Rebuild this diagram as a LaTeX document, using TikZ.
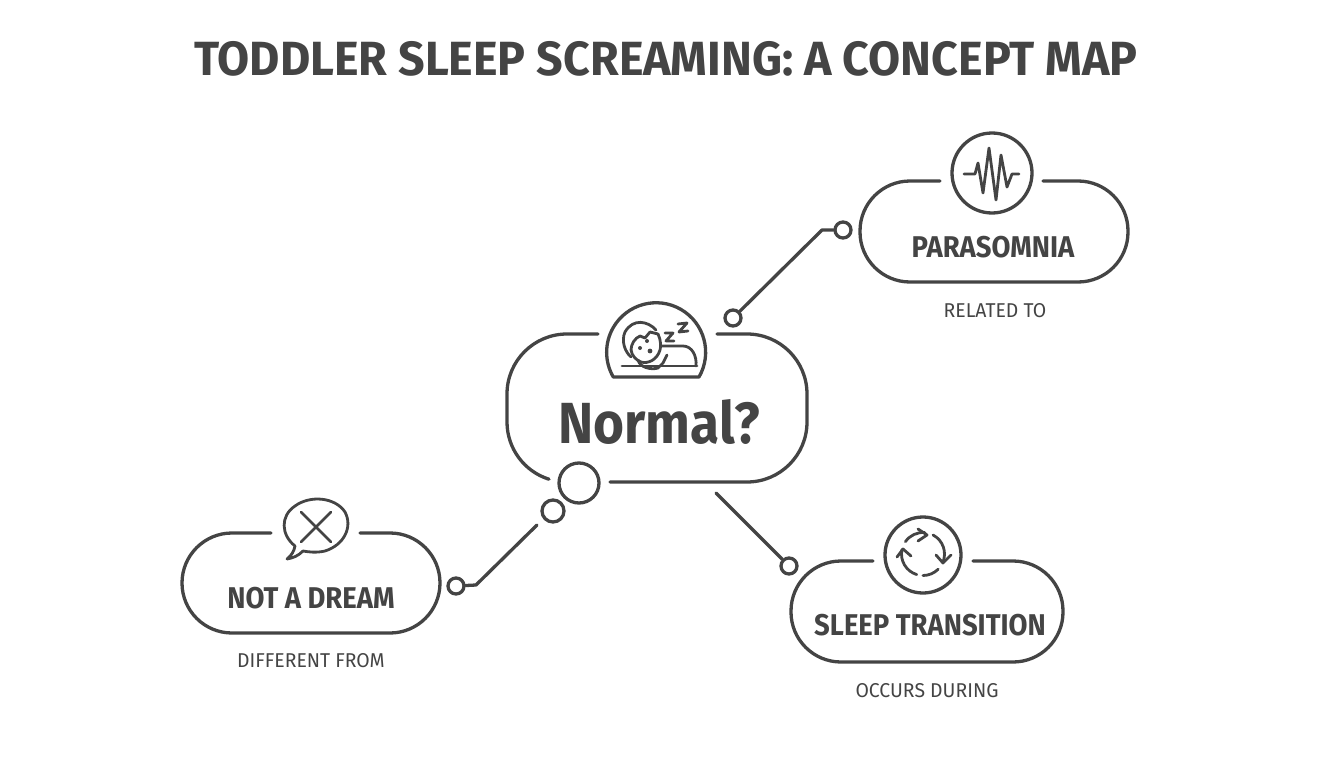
\documentclass[tikz,border=0pt]{standalone}
\usepackage{fontspec}
\setmainfont[FakeStretch=0.97]{Fira Sans}
\newfontfamily\headfont[FakeStretch=0.915]{Fira Sans}
\definecolor{ink}{HTML}{444444}

\begin{document}
\begin{tikzpicture}[x=1pt, y=-1pt, line width=3.3pt, draw=ink, text=ink, line cap=round, line join=round,
    ring/.style = {draw, circle, inner sep=0pt},
    port/.style = {draw, circle, inner sep=0pt, minimum size=16pt},
    title/.style = {anchor=base, font=\fontsize{48}{48}\selectfont\bfseries},
    head/.style = {anchor=base, font=\headfont\fontsize{30}{30}\selectfont\bfseries},
    caption/.style = {anchor=base, font=\fontsize{20}{20}\selectfont},
    thin/.style = {line width=2.8pt}]
    \useasboundingbox (0,0) rectangle (1344,768);
    \node[title] (title) at (666,75) {TODDLER SLEEP SCREAMING: A CONCEPT MAP};

    % centre
    \node[anchor=base, font=\headfont\fontsize{58}{58}\selectfont\bfseries] (normal) at (659,443) {Normal?};
    \draw (598,334) -- (567,334) arc[start angle=-90, end angle=-180, radius=60]
        -- (507,422) arc[start angle=-180, end angle=-252.5, radius=60];
    \draw[rounded corners=60pt] (717,334) -- (807,334) -- (807,482) -- (610,482);
    \draw (617,377) -- (699,377) arc[start angle=30, end angle=-210, radius=49.5] -- cycle;
    \node[ring, minimum size=40pt] (bubble1) at (579,483) {};
    \node[ring, minimum size=22pt] (bubble2) at (553,511) {};

    % sleeping child
    \draw[thin] (622,366) -- (697,366);
    \draw[thin] (656,330) .. controls (648,321) and (633,318) .. (625,332)
        .. controls (621,341) and (625,352) .. (631,357);
    \draw[thin] (658,334) .. controls (661,340) and (661,347) .. (660,350)
        .. controls (657,360) and (648,364) .. (641,362)
        .. controls (636,360) and (632,356) .. (631,350);
    \draw[thin] (631,350) .. controls (631,344) and (635,338) .. (640,336) -- (645,338) -- (650,332) -- (658,334);
    \fill[ink] (647,341) circle (2) (640,348) circle (2);
    \fill[ink] (650,351) circle (2.4);
    \draw[thin] (638,360) .. controls (640,368) and (652,370) .. (658,368) -- (663,363) -- (667,355);
    \draw[thin] (662,346) -- (683,346) .. controls (692,346) and (697,356) .. (696,366);
    \draw[thin] (665,333) -- (673,333) -- (666,341) -- (674,341);
    \draw[thin] (678,324) -- (687,323) -- (679,332) -- (688,331);

    % not a dream
    \node[head] (dream) at (311,608) {NOT A DREAM};
    \node[caption] (dreamcap) at (311,667) {DIFFERENT FROM};
    \draw[rounded corners=50pt] (271,533) -- (182,533) -- (182,633) -- (440,633) -- (440,533) -- (360,533);
    \draw[thin] (295,546) .. controls (281,535) and (280,516) .. (295,506)
        .. controls (310,495) and (335,497) .. (345,512)
        .. controls (353,527) and (344,545) .. (325,551)
        .. controls (316,553) and (309,552) .. (303,551)
        .. controls (298,556) and (293,558) .. (287,559)
        .. controls (292,555) and (294,551) .. (295,546) -- cycle;
    \draw[thin] (301,512) -- (331,542);
    \draw[thin] (331,512) -- (301,542);
    \node[port] (dreamport) at (456,586) {};
    \coordinate (dreambend) at (476,585);
    \coordinate (dreamend) at (537,525);
    \draw (dreamport) -- (dreambend) -- (dreamend);

    % parasomnia
    \node[head] (para) at (993,257) {PARASOMNIA};
    \node[caption] (paracap) at (995,317) {RELATED TO};
    \draw[rounded corners=50pt] (940,181) -- (860,181) -- (860,282) -- (1128,282) -- (1128,181) -- (1043,181);
    \node[ring, minimum size=80pt] (wave) at (992,173) {};
    \draw[thin] (964,174) -- (975,174) -- (978,163) -- (983,193) -- (989,148) -- (996,200) -- (1001,155) -- (1007,187) -- (1012,174) -- (1019,174);
    \node[port] (paraport) at (843,230) {};
    \node[port] (normalport) at (733,318) {};
    \coordinate (parabend) at (822,230);
    \draw (paraport) -- (parabend) -- (normalport);

    % sleep transition
    \node[head] (trans) at (930,635) {SLEEP TRANSITION};
    \node[caption] (transcap) at (927,697) {OCCURS DURING};
    \draw[rounded corners=50pt] (873,561) -- (791,561) -- (791,662) -- (1063,662) -- (1063,561) -- (973,561);
    \node[ring, minimum size=76pt] (cycle) at (923,555) {};
    \draw[thin] (923,554) ++(-145:21.5) arc[start angle=-145, end angle=-85, radius=21.5];
    \draw[thin] (918,529) -- (927,535) -- (918,541);
    \draw[thin] (923,554) ++(-62:21.5) arc[start angle=-62, end angle=24, radius=21.5];
    \draw[thin] (936,555) -- (943,563) -- (951,555);
    \draw[thin] (923,554) ++(45:21.5) arc[start angle=45, end angle=90, radius=21.5];
    \draw[thin] (923,554) ++(107:21.5) arc[start angle=107, end angle=192, radius=21.5];
    \draw[thin] (897,557) -- (903,549) -- (911,556);
    \node[port] (transport) at (789,566) {};
    \coordinate (transend) at (716,493);
    \draw (transend) -- (transport);
\end{tikzpicture}
\end{document}
